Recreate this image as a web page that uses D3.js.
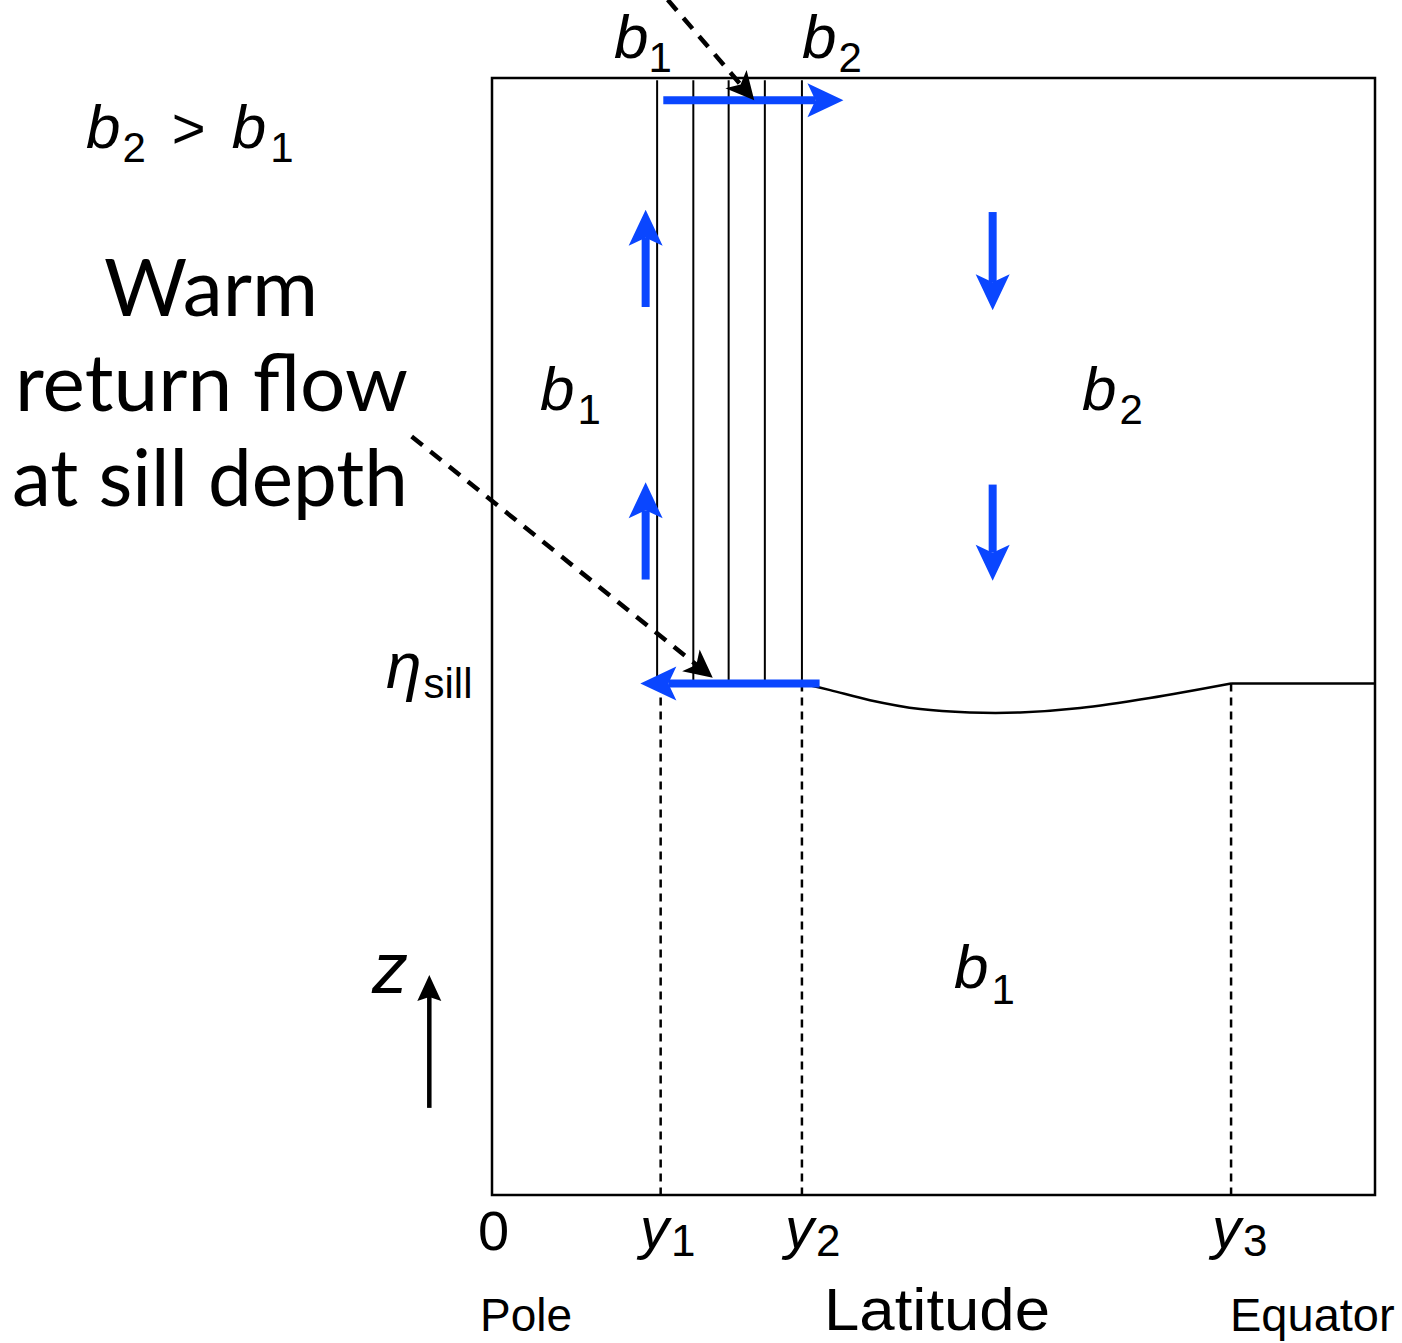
<!DOCTYPE html>
<html>
<head>
<meta charset="utf-8">
<script src="https://cdn.jsdelivr.net/npm/d3@7"></script>
<style>
  body { margin: 0; background: #fff; }
  svg { display: block; }
  .math { font-family: "Liberation Sans", Arial, sans-serif; font-style: italic; }
  .plain { font-family: "Liberation Sans", Arial, sans-serif; }
  .gill { font-family: Lato, "Open Sans", sans-serif; }
</style>
</head>
<body>
<div id="chart"></div>
<script>
// Data (latitude 0..100 from pole to equator, height z 0..100 from bottom to top)
const boundaryNames = ["y1", "y2", "y3"]
const boundaryLat = [19.1, 35.1, 83.7]
const columnLat = [18.7, 22.8, 26.8, 30.9, 35.1]   // thin lines in the sinking column
const columnTopZ = 99.8
const sillZ = 45.8
const interfaceLat = [35.1, 38.3, 42.8, 48.5, 54.1, 59.8, 66.6, 74.5, 83.7, 100]
const interfaceZ = [45.8, 45.2, 44.3, 43.5, 43.2, 43.2, 43.6, 44.5, 45.8, 45.8]

// blue flow arrows [lat0, z0, lat1, z1]
const flowArrows = [
  [19.4, 98.0, 39.8, 98.0],
  [37.1, 45.8, 16.8, 45.8],
  [17.4, 79.5, 17.4, 88.2],
  [17.4, 55.1, 17.4, 63.8],
  [56.7, 88.0, 56.7, 79.2],
  [56.7, 63.6, 56.7, 55.0]
]
// dashed pointer arrows
const pointerArrows = [
  [19.9, 107.0, 29.7, 98.0],
  [-9.1, 67.9, 25.0, 46.3]
]
const zArrow = [-7.1, 7.8, -7.1, 19.7]

const width = 1402, height = 1343
const svg = d3.select('#chart').append('svg')
  .attr('width', width)
  .attr('height', height)

const x = d3.scaleLinear().domain([0, 100]).range([492, 1375])
const z = d3.scaleLinear().domain([0, 100]).range([1195, 78])

// arrow head polygon with a notch
function head(x1, y1, x0, y0, len, half, notch) {
  const a = Math.atan2(y1 - y0, x1 - x0)
  const c = Math.cos(a), s = Math.sin(a)
  const p = (u, v) => [x1 + u * c - v * s, y1 + u * s + v * c]
  return [p(0, 0), p(-len, half), p(-len + notch, 0), p(-len, -half)]
}

// Outer box
svg.append('rect')
  .attr('x', x(0)).attr('y', z(100))
  .attr('width', x(100) - x(0)).attr('height', z(0) - z(100))
  .attr('fill', 'none').attr('stroke', '#000').attr('stroke-width', 2.5)

// column lines
svg.append('g').selectAll('line')
  .data(columnLat).enter().append('line')
  .attr('x1', d => x(d)).attr('x2', d => x(d))
  .attr('y1', z(columnTopZ)).attr('y2', z(sillZ))
  .attr('stroke', '#000').attr('stroke-width', 2)

// dashed boundary lines
svg.append('g').selectAll('line')
  .data(boundaryLat).enter().append('line')
  .attr('x1', d => x(d)).attr('x2', d => x(d))
  .attr('y1', z(sillZ)).attr('y2', z(0))
  .attr('stroke', '#000').attr('stroke-width', 2.5)
  .attr('stroke-dasharray', '8,6')

// interface
const iface = d3.line().x(d => x(d[0])).y(d => z(d[1])).curve(d3.curveCatmullRom)
svg.append('path')
  .attr('d', iface(d3.zip(interfaceLat.slice(0, 9), interfaceZ.slice(0, 9))))
  .attr('fill', 'none').attr('stroke', '#000').attr('stroke-width', 2.5)
svg.append('path')
  .attr('d', d3.line().x(d => x(d[0])).y(d => z(d[1]))(d3.zip(interfaceLat.slice(8), interfaceZ.slice(8))))
  .attr('fill', 'none').attr('stroke', '#000').attr('stroke-width', 2.5)

// blue arrows
const blue = '#0a46ff'
flowArrows.forEach(d => {
  const x0 = x(d[0]), y0 = z(d[1]), x1 = x(d[2]), y1 = z(d[3])
  const L = Math.hypot(x1 - x0, y1 - y0)
  const t = (L - 28) / L
  svg.append('line')
    .attr('x1', x0).attr('y1', y0)
    .attr('x2', x0 + (x1 - x0) * t).attr('y2', y0 + (y1 - y0) * t)
    .attr('stroke', blue).attr('stroke-width', 8)
  svg.append('polygon')
    .attr('points', head(x1, y1, x0, y0, 36, 17, 8).join(' '))
    .attr('fill', blue)
})

// dashed pointer arrows
pointerArrows.forEach(d => {
  const x0 = x(d[0]), y0 = z(d[1]), x1 = x(d[2]), y1 = z(d[3])
  const L = Math.hypot(x1 - x0, y1 - y0)
  const t = (L - 18) / L
  svg.append('line')
    .attr('x1', x0).attr('y1', y0)
    .attr('x2', x0 + (x1 - x0) * t).attr('y2', y0 + (y1 - y0) * t)
    .attr('stroke', '#000').attr('stroke-width', 4.5)
    .attr('stroke-dasharray', '14,10')
  svg.append('polygon')
    .attr('points', head(x1, y1, x0, y0, 28, 14, 7).join(' '))
    .attr('fill', '#000')
})

// z arrow
{
  const x0 = x(zArrow[0]), y0 = z(zArrow[1]), x1 = x(zArrow[2]), y1 = z(zArrow[3])
  svg.append('line')
    .attr('x1', x0).attr('y1', y0).attr('x2', x1).attr('y2', y1 + 18)
    .attr('stroke', '#000').attr('stroke-width', 4.5)
  svg.append('polygon')
    .attr('points', head(x1, y1, x0, y0, 26, 12, 4).join(' '))
    .attr('fill', '#000')
}

// label helper: main italic letter + subscript
function sym(px, py, main, sub, size, subSize, dx, dy) {
  const t = svg.append('text').attr('x', px).attr('y', py)
  t.append('tspan').attr('class', 'math').attr('font-size', size).text(main)
  if (sub) t.append('tspan').attr('class', 'plain').attr('font-size', subSize)
    .attr('dx', dx || 0).attr('dy', dy || 0).text(sub)
  return t
}

// region labels
sym(540, 410, 'b', '1', 62, 42, 3, 14)
sym(1082, 410, 'b', '2', 62, 42, 3, 14)
sym(954, 988, 'b', '1', 62, 42, 3, 16)
sym(614, 58, 'b', '1', 62, 42, 0, 14)
sym(802, 58, 'b', '2', 62, 42, 2, 14)

// b2 > b1
{
  const t = svg.append('text').attr('x', 86).attr('y', 148)
  t.append('tspan').attr('class', 'math').attr('font-size', 62).text('b')
  t.append('tspan').attr('class', 'plain').attr('font-size', 42).attr('dx', 2).attr('dy', 14).text('2')
  t.append('tspan').attr('class', 'plain').attr('font-size', 58).attr('dx', 26).attr('dy', -14).text('>')
  t.append('tspan').attr('class', 'math').attr('font-size', 62).attr('dx', 26).text('b')
  t.append('tspan').attr('class', 'plain').attr('font-size', 42).attr('dx', 4).attr('dy', 14).text('1')
}

// Warm return flow text
const gillLines = [
  { text: 'Warm', x: 104, y: 316, w: 214 },
  { text: 'return flow', x: 15, y: 411, w: 393 },
  { text: 'at sill depth', x: 12, y: 506, w: 396 }
]
svg.append('g').selectAll('text')
  .data(gillLines).enter().append('text')
  .attr('class', 'gill')
  .attr('x', d => d.x).attr('y', d => d.y)
  .attr('font-size', 80)
  .attr('textLength', d => d.w)
  .attr('lengthAdjust', 'spacingAndGlyphs')
  .text(d => d.text)

// eta_sill
{
  const t = svg.append('text').attr('x', 386).attr('y', 688)
  t.append('tspan').attr('class', 'math').attr('font-size', 64).text('η')
  t.append('tspan').attr('class', 'plain').attr('font-size', 42).attr('dx', 2).attr('dy', 10).text('sill')
}

// z
svg.append('text').attr('class', 'math').attr('x', 372).attr('y', 993)
  .attr('font-size', 72).text('z')

// latitude tick labels
svg.append('text').attr('class', 'plain').attr('x', 478).attr('y', 1250)
  .attr('font-size', 56).text('0')
const subX = [640, 785, 1212]
boundaryNames.forEach((n, i) => {
  sym(subX[i], 1248, 'y', n.slice(1), 58, 44, 2, 8)
})

svg.append('text').attr('class', 'plain').attr('x', 480).attr('y', 1331)
  .attr('font-size', 46).text('Pole')
svg.append('text').attr('class', 'plain').attr('x', 824).attr('y', 1330)
  .attr('font-size', 60).attr('textLength', 226).attr('lengthAdjust', 'spacingAndGlyphs')
  .text('Latitude')
svg.append('text').attr('class', 'plain').attr('x', 1230).attr('y', 1331)
  .attr('font-size', 47).text('Equator')
</script>
</body>
</html>
